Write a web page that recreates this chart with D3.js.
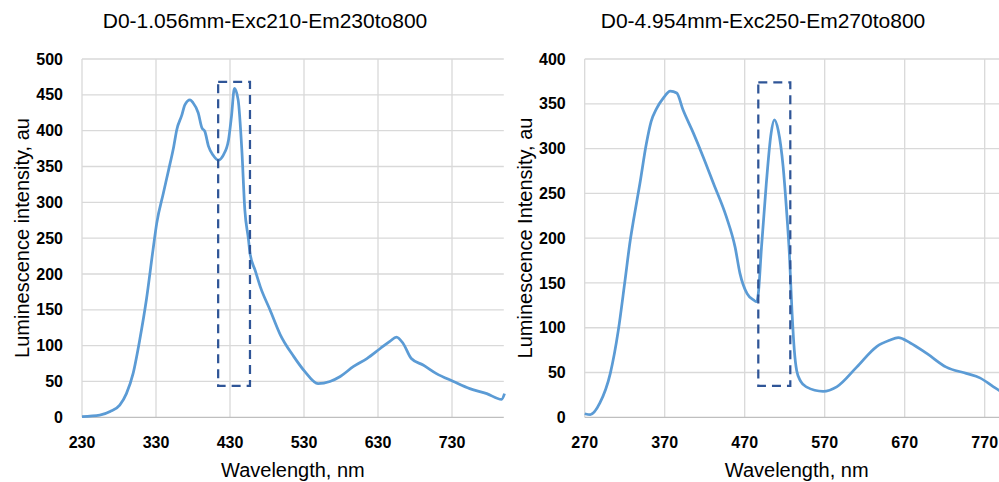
<!DOCTYPE html>
<html>
<head>
<meta charset="utf-8">
<script src="https://cdn.jsdelivr.net/npm/d3@7"></script>
<style>
  body { margin: 0; background: #fff; }
  text { font-family: "Liberation Sans", Arial, sans-serif; fill: #000; }
</style>
</head>
<body>
<div id="chart"></div>
<script>
// ---- data ----
var leftTitle = "D0-1.056mm-Exc210-Em230to800"
var rightTitle = "D0-4.954mm-Exc250-Em270to800"

var leftWave = [230, 254, 268, 281, 290, 299, 308, 317, 326, 331, 340, 347, 354, 358, 365, 369, 376, 380, 387, 392, 396, 401, 407, 414, 421, 428, 432, 436, 441, 446, 450, 455, 457, 464, 471, 484, 498, 516, 531, 549, 565, 579, 597, 615, 633, 646, 655, 664, 675, 691, 709, 732, 754, 777, 797, 801]
var leftLum = [1, 3, 8, 17, 33, 61, 108, 164, 234, 271, 313, 345, 378, 401, 422, 436, 443, 439, 425, 404, 399, 378, 366, 359, 366, 387, 420, 459, 443, 373, 290, 248, 229, 205, 182, 150, 115, 85, 64, 47, 50, 57, 71, 82, 96, 106, 112, 103, 82, 73, 61, 50, 40, 33, 25, 33]

var rightWave = [270, 277, 289, 302, 312, 320, 327, 331, 339, 347, 353, 360, 368, 377, 385, 393, 406, 418, 431, 447, 458, 464, 473, 481, 485, 487, 491, 497, 503, 507, 512, 518, 522, 526, 529, 532, 535, 540, 547, 568, 585, 610, 635, 651, 662, 677, 698, 722, 747, 764, 781, 788, 800]
var rightLum = [4, 3, 16, 49, 97, 150, 198, 220, 261, 305, 330, 345, 356, 364, 362, 343, 317, 291, 261, 224, 190, 161, 138, 131, 129, 138, 190, 261, 317, 332, 320, 280, 235, 180, 120, 75, 52, 40, 34, 29, 34, 56, 79, 86, 89, 83, 71, 56, 49, 44, 34, 30, 22]

var leftXTicks = [230, 330, 430, 530, 630, 730]
var leftYTicks = [0, 50, 100, 150, 200, 250, 300, 350, 400, 450, 500]
var rightXTicks = [270, 370, 470, 570, 670, 770]
var rightYTicks = [0, 50, 100, 150, 200, 250, 300, 350, 400]

// highlighted regions: [x0, x1, y0, y1]
var leftBox = [414, 457, 44, 468]
var rightBox = [487, 527, 35, 374]

var width = 999, height = 482

var svg = d3.select("#chart")
    .append("svg")
    .attr("width", width)
    .attr("height", height)

function drawPanel(opt) {
    var x = d3.scaleLinear().domain(opt.xDomain).range([opt.left, opt.right])
    var y = d3.scaleLinear().domain(opt.yDomain).range([417.3, 59])

    var g = svg.append("g")

    // grid lines
    g.selectAll(".hgrid")
        .data(opt.yTicks.slice(1))
        .enter()
        .append("line")
        .attr("x1", opt.left)
        .attr("x2", opt.right)
        .attr("y1", function (d) { return y(d) })
        .attr("y2", function (d) { return y(d) })
        .attr("stroke", "#d9d9d9")
        .attr("stroke-width", 1.3)

    g.selectAll(".vgrid")
        .data(opt.xTicks)
        .enter()
        .append("line")
        .attr("x1", function (d) { return x(d) })
        .attr("x2", function (d) { return x(d) })
        .attr("y1", y(opt.yDomain[1]))
        .attr("y2", y(0))
        .attr("stroke", "#d9d9d9")
        .attr("stroke-width", 1.3)

    // bottom axis line
    g.append("line")
        .attr("x1", opt.left)
        .attr("x2", opt.right)
        .attr("y1", y(0))
        .attr("y2", y(0))
        .attr("stroke", "#bfbfbf")
        .attr("stroke-width", 1.3)

    // tick labels
    g.selectAll(".ylab")
        .data(opt.yTicks)
        .enter()
        .append("text")
        .attr("x", opt.left - 19)
        .attr("y", function (d) { return y(d) })
        .attr("dy", "0.35em")
        .attr("text-anchor", "end")
        .style("font-size", "16px")
        .style("font-weight", "bold")
        .text(function (d) { return d })

    g.selectAll(".xlab")
        .data(opt.xTicks)
        .enter()
        .append("text")
        .attr("x", function (d) { return x(d) })
        .attr("y", 448)
        .attr("text-anchor", "middle")
        .style("font-size", "16px")
        .style("font-weight", "bold")
        .text(function (d) { return d })

    // titles
    g.append("text")
        .attr("x", opt.titleX)
        .attr("y", 28)
        .attr("text-anchor", "middle")
        .style("font-size", "21px")
        .text(opt.title)

    g.append("text")
        .attr("x", (x(opt.xDomain[0]) + x(opt.xDomain[1])) / 2)
        .attr("y", 477)
        .attr("text-anchor", "middle")
        .style("font-size", "20px")
        .text("Wavelength, nm")

    g.append("text")
        .attr("transform", "translate(" + opt.yLabelX + ",238) rotate(-90)")
        .attr("text-anchor", "middle")
        .style("font-size", "20px")
        .text(opt.yLabel)

    // the spectrum
    var pts = opt.wave.map(function (w, i) { return [w, opt.lum[i]] })
    var line = d3.line()
        .x(function (d) { return x(d[0]) })
        .y(function (d) { return y(d[1]) })
        .curve(d3.curveMonotoneX)

    g.append("path")
        .datum(pts)
        .attr("d", line)
        .attr("fill", "none")
        .attr("stroke", "#5b9bd5")
        .attr("stroke-width", 2.75)
        .attr("stroke-linejoin", "round")

    // dashed highlight box
    g.append("rect")
        .attr("x", x(opt.box[0]))
        .attr("y", y(opt.box[3]))
        .attr("width", x(opt.box[1]) - x(opt.box[0]))
        .attr("height", y(opt.box[2]) - y(opt.box[3]))
        .attr("fill", "none")
        .attr("stroke", "#2f5597")
        .attr("stroke-width", 2.25)
        .style("stroke-dasharray", "9,6")
}

drawPanel({
    xDomain: [230, 800], yDomain: [0, 500], left: 82, right: 503.8,
    xTicks: leftXTicks, yTicks: leftYTicks, wave: leftWave, lum: leftLum,
    box: leftBox, title: leftTitle, titleX: 265, yLabelX: 29,
    yLabel: "Luminescence intensity, au"
})

drawPanel({
    xDomain: [270, 800], yDomain: [0, 400], left: 584.7, right: 1008.7,
    xTicks: rightXTicks, yTicks: rightYTicks, wave: rightWave, lum: rightLum,
    box: rightBox, title: rightTitle, titleX: 763, yLabelX: 532,
    yLabel: "Luminescence Intensity, au"
})
</script>
</body>
</html>
